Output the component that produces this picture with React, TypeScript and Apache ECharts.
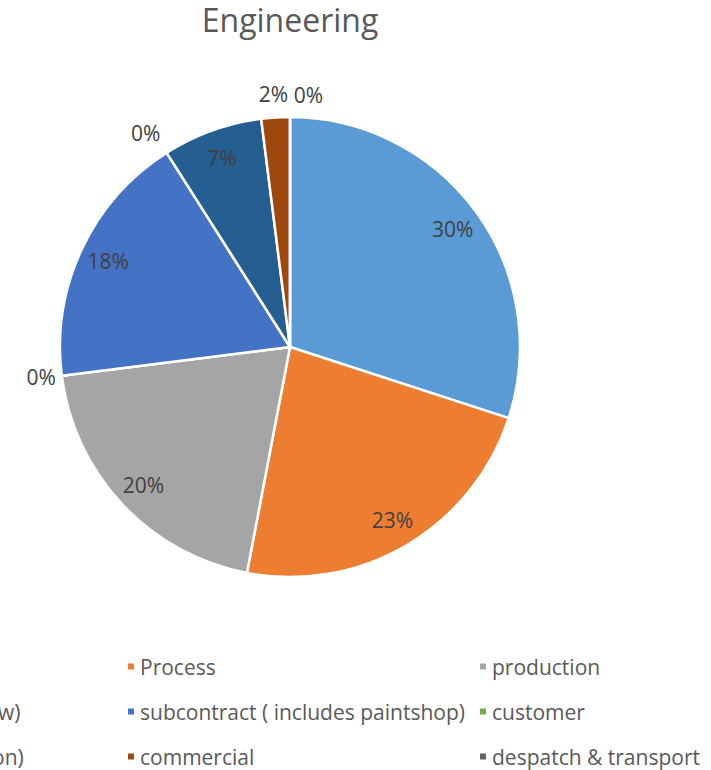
import React, { useEffect, useRef } from 'react';
import * as echarts from 'echarts';

const chartTitle = 'Engineering';
const categories = [
  'design',
  'Process',
  'production',
  'quality (drawing review)',
  'subcontract ( includes paintshop)',
  'customer',
  'sales (offer & quotation)',
  'commercial',
  'despatch & transport',
];
const values = [30, 23, 20, 0, 18, 0, 7, 2, 0];
const colors = ['#5B9BD5', '#ED7D31', '#A5A5A5', '#FFC000', '#4472C4', '#70AD47', '#255E91', '#9E480E', '#636363'];

// label-line tuning for slices whose label sits outside the pie
const outsideLabelTuning: Record<number, [number, number]> = {
  3: [10, -4],
  5: [23, -6],
  7: [24, -14],
  8: [22, -33],
};

const FONT = 'Open Sans';

export default function App() {
  const ref = useRef<HTMLDivElement>(null);
  useEffect(() => {
    document.body.style.margin = '0';
    const chart = echarts.init(ref.current!, null, { renderer: 'svg' });
    const baseData = categories.map((name, i) => ({
      name,
      value: values[i],
      itemStyle: { color: colors[i] },
    }));
    const labelData = categories.map((name, i) => {
      const t = outsideLabelTuning[i];
      return t
        ? {
            name,
            value: values[i],
            label: { position: 'outside' },
            labelLine: { show: false, length: t[0], length2: t[1] },
          }
        : { name, value: values[i], label: { position: 'inside' } };
    });
    const legendCommon = {
      orient: 'vertical',
      top: 651,
      height: 160,
      itemWidth: 8,
      itemHeight: 8,
      itemGap: 24,
      icon: 'rect',
      selectedMode: false,
      textStyle: { fontSize: 21, color: '#595959', fontFamily: FONT },
    };
    chart.setOption({
      animation: false,
      backgroundColor: '#ffffff',
      textStyle: { fontFamily: FONT },
      title: {
        text: chartTitle,
        left: 'center',
        top: 3,
        padding: 0,
        textStyle: { fontSize: 32, fontWeight: 'normal', color: '#595959', fontFamily: FONT },
      },
      legend: [
        { ...legendCommon, left: 39, data: [categories[0], categories[3], categories[6]] },
        { ...legendCommon, left: 391, data: [categories[1], categories[4], categories[7]] },
        { ...legendCommon, left: 743, data: [categories[2], categories[5], categories[8]] },
      ],
      series: [
        {
          type: 'pie',
          center: ['50%', 347],
          radius: 230,
          startAngle: 90,
          clockwise: true,
          silent: true,
          avoidLabelOverlap: false,
          itemStyle: { borderColor: '#ffffff', borderWidth: 2.5 },
          label: { show: false },
          labelLine: { show: false },
          emphasis: { disabled: true },
          data: baseData,
        },
        {
          type: 'pie',
          center: ['50%', 347],
          radius: [166, 230],
          startAngle: 90,
          clockwise: true,
          silent: true,
          avoidLabelOverlap: false,
          percentPrecision: 0,
          itemStyle: { color: 'rgba(0,0,0,0)', borderWidth: 0 },
          label: {
            show: true,
            formatter: '{d}%',
            fontSize: 21,
            color: '#404040',
            fontFamily: FONT,
            distanceToLabelLine: 0,
          },
          labelLine: { show: false },
          emphasis: { disabled: true },
          data: labelData,
        },
      ],
    });
    return () => chart.dispose();
  }, []);
  return (
    <div style={{ position: 'fixed', left: 0, top: 0, width: 711, height: 770, overflow: 'hidden', background: '#fff' }}>
      <div ref={ref} style={{ position: 'absolute', left: -270, top: 0, width: 1120, height: 840 }} />
    </div>
  );
}
